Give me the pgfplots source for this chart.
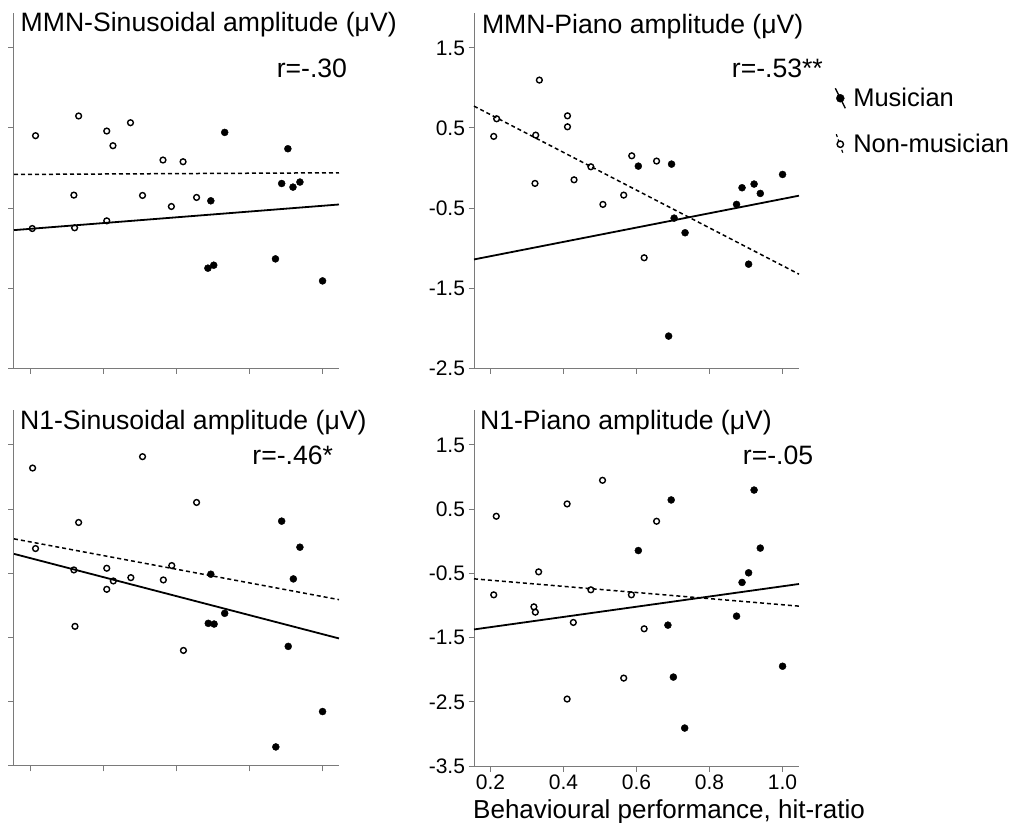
\documentclass[border=0pt]{standalone}
\usepackage{fontspec}
\setmainfont{Liberation Sans}
\usepackage{pgfplots}
\pgfplotsset{compat=1.18}

\definecolor{axgray}{HTML}{7A7A7A}
\newcommand{\tf}{\fontsize{21bp}{24bp}\selectfont}

\pgfplotsset{
  panel/.style={
    scale only axis, width=325bp,
    xmin=0.155, xmax=1.045,
    axis x line=bottom, axis y line=left,
    axis line style={-, draw=axgray, line width=1bp},
    every tick/.style={draw=axgray, line width=1bp},
    tick align=outside, major tick length=5.5bp,
    xtick={0.2,0.4,0.6,0.8,1.0},
    clip=false,
  },
  mus/.style={only marks, mark=*, mark size=3.5bp, black},
  non/.style={only marks, mark=o, mark size=2.9bp, black,
    mark options={line width=1.4bp, fill=white}},
  reg/.style={black, line width=1.8bp, no marks},
  regd/.style={black, line width=1.5bp, dash pattern=on 4bp off 3bp, no marks},
}
\tikzset{ttl/.style={anchor=base west, inner sep=0pt, font=\fontsize{26.6bp}{30bp}\selectfont}}

\begin{document}
\begin{tikzpicture}
\path[use as bounding box] (0,0) rectangle (1019bp,823bp);

% MMN-Sinusoidal
\begin{axis}[panel, at={(14bp,454.7bp)}, anchor=south west, height=355bp,
  ymin=-2.5, ymax=1.932, ytick={-2.5,-1.5,-0.5,0.5,1.5},
  xticklabels={}, yticklabels={}]
\addplot[reg] coordinates {(0.155,-0.775) (1.045,-0.455)};
\addplot[regd] coordinates {(0.155,-0.08) (1.045,-0.059)};
\addplot[non] coordinates {(0.214,0.404) (0.205,-0.755) (0.332,0.65) (0.319,-0.338) (0.321,-0.746) (0.409,0.462) (0.426,0.279) (0.409,-0.659) (0.474,0.566) (0.507,-0.342) (0.563,0.10) (0.586,-0.48) (0.618,0.079) (0.655,-0.367)};
\addplot[mus] coordinates {(0.694,-0.409) (0.686,-1.25) (0.702,-1.213) (0.732,0.445) (0.871,-1.134) (0.888,-0.193) (0.905,0.241) (0.919,-0.238) (0.938,-0.175) (1.0,-1.409)};
\node[ttl] at (rel axis cs:0.02,0.948) {MMN-Sinusoidal amplitude (μV)};
\node[ttl] at (rel axis cs:0.808,0.82) {r=-.30};
\end{axis}

% MMN-Piano
\begin{axis}[panel, at={(474bp,454.7bp)}, anchor=south west, height=355bp,
  ymin=-2.5, ymax=1.932, ytick={-2.5,-1.5,-0.5,0.5,1.5},
  yticklabels={{\tf -2.5},{\tf -1.5},{\tf -0.5},{\tf 0.5},{\tf 1.5}}, xticklabels={},
  legend style={draw=none, fill=none, at={(rel axis cs:1.108,0.795)}, anchor=north west,
    font=\fontsize{25.5bp}{28bp}\selectfont, row sep=22bp, inner sep=0pt},
  legend cell align=left]
\addlegendimage{legend image code/.code={
  \path[draw=none] (-6bp,0) -- (11bp,0);
  \draw[black, line width=1.4bp] (-5bp,10bp) -- (5bp,-10bp);
  \fill[black] (0,0) circle (4bp);}}
\addlegendentry{Musician}
\addlegendimage{legend image code/.code={
  \path[draw=none] (-6bp,0) -- (11bp,0);
  \draw[black, line width=1.2bp, dash pattern=on 3bp off 2.5bp] (-4bp,10bp) -- (3bp,-10bp);
  \draw[black, line width=1.4bp, fill=white] (0,0) circle (3.2bp);}}
\addlegendentry{Non-musician}
\addplot[reg] coordinates {(0.155,-1.141) (1.045,-0.345)};
\addplot[regd] coordinates {(0.155,0.773) (1.045,-1.325)};
\addplot[non] coordinates {(0.209,0.395) (0.217,0.615) (0.322,-0.192) (0.324,0.411) (0.334,1.098) (0.411,0.652) (0.411,0.515) (0.429,-0.147) (0.475,0.016) (0.508,-0.454) (0.565,-0.338) (0.587,0.153) (0.621,-1.12) (0.655,0.087)};
\addplot[mus] coordinates {(0.605,0.024) (0.696,0.049) (0.688,-2.098) (0.703,-0.625) (0.733,-0.808) (0.874,-0.454) (0.889,-0.246) (0.922,-0.2) (0.939,-0.317) (0.907,-1.2) (1.0,-0.08)};
\node[ttl] at (rel axis cs:0.024,0.944) {MMN-Piano amplitude (μV)};
\node[ttl] at (rel axis cs:0.793,0.82) {r=-.53**};
\end{axis}

% N1-Sinusoidal
\begin{axis}[panel, at={(14bp,57bp)}, anchor=south west, height=356bp,
  ymin=-3.5, ymax=2.045, ytick={-3.5,-2.5,-1.5,-0.5,0.5,1.5},
  xticklabels={}, yticklabels={}]
\addplot[reg] coordinates {(0.155,-0.196) (1.045,-1.513)};
\addplot[regd] coordinates {(0.155,0.038) (1.045,-0.909)};
\addplot[non] coordinates {(0.206,1.141) (0.214,-0.113) (0.319,-0.446) (0.332,0.293) (0.322,-1.325) (0.409,-0.42) (0.409,-0.748) (0.427,-0.618) (0.475,-0.566) (0.507,1.318) (0.564,-0.602) (0.587,-0.378) (0.619,-1.70) (0.655,0.605)};
\addplot[mus] coordinates {(0.694,-0.513) (0.687,-1.278) (0.703,-1.289) (0.732,-1.122) (0.872,-3.203) (0.888,0.314) (0.906,-1.637) (0.92,-0.586) (0.938,-0.092) (1.0,-2.652)};
\node[ttl] at (rel axis cs:0.018,0.944) {N1-Sinusoidal amplitude (μV)};
\node[ttl] at (rel axis cs:0.733,0.846) {r=-.46*};
\end{axis}

% N1-Piano
\begin{axis}[panel, at={(474bp,57bp)}, anchor=south west, height=356bp,
  ymin=-3.5, ymax=2.045, ytick={-3.5,-2.5,-1.5,-0.5,0.5,1.5},
  yticklabels={{\tf -3.5},{\tf -2.5},{\tf -1.5},{\tf -0.5},{\tf 0.5},{\tf 1.5}},
  xticklabels={{\tf 0.2},{\tf 0.4},{\tf 0.6},{\tf 0.8},{\tf 1.0}},
  xlabel={Behavioural performance, hit-ratio},
  xlabel style={at={(rel axis cs:0,0)}, anchor=base west, inner sep=0pt,
    yshift=-52.7bp, xshift=-1bp, font=\fontsize{26bp}{30bp}\selectfont}]
\addplot[reg] coordinates {(0.155,-1.373) (1.045,-0.665)};
\addplot[regd] coordinates {(0.155,-0.585) (1.045,-1.01)};
\addplot[non] coordinates {(0.209,-0.834) (0.216,0.39) (0.319,-1.021) (0.323,-1.104) (0.332,-0.476) (0.41,0.582) (0.41,-2.457) (0.427,-1.264) (0.475,-0.756) (0.507,0.95) (0.565,-2.131) (0.586,-0.834) (0.621,-1.363) (0.655,0.312)};
\addplot[mus] coordinates {(0.605,-0.144) (0.695,0.644) (0.686,-1.306) (0.701,-2.115) (0.732,-2.909) (0.874,-1.166) (0.889,-0.641) (0.907,-0.491) (0.922,0.798) (0.939,-0.106) (1.0,-1.946)};
\node[ttl] at (rel axis cs:0.018,0.944) {N1-Piano amplitude (μV)};
\node[ttl] at (rel axis cs:0.827,0.846) {r=-.05};
\end{axis}
\end{tikzpicture}
\end{document}
